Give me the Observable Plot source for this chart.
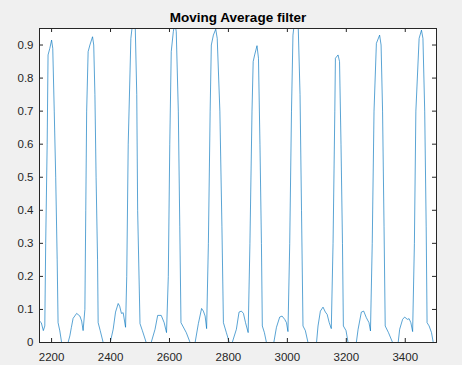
<!DOCTYPE html>
<html><head><meta charset="utf-8">
<script src="https://cdn.jsdelivr.net/npm/d3@7"></script>
<script src="https://cdn.jsdelivr.net/npm/@observablehq/plot@0.6"></script>
<style>html,body{margin:0;padding:0;background:#f0f0f0;overflow:hidden;}</style>
</head><body><div id="chart"></div>
<script>
const titleText = "Moving Average filter";
const sampleIndex = [
  2159,2165,2172,2177,2180,2185,2188,2194,2200,2204,2209,2214,2219,2222,2228,2234,
  2256,2262,2267,2273,2285,2296,2302,2307,2313,2316,2319,2324,
  2330,2339,2343,2347,2351,2356,2358,2365,2375,
  2399,2409,2417,2426,2431,2437,2443,2451,2455,2460,2469,2474,2479,2484,2489,2492,2500,2508,2521,
  2538,2551,2560,2572,2582,2590,2596,2601,2606,2613,2618,2623,2630,2635,2639,2657,2670,
  2687,2698,2709,2715,2721,2726,2732,2738,2742,2749,2757,2762,2771,2778,2783,2793,2803,
  2813,2827,2836,2844,2851,2858,2867,2873,2880,2884,2889,2897,2902,2907,2912,2915,2922,2929,
  2954,2963,2974,2982,2991,2997,3002,3008,3014,3019,3024,3031,3037,3043,3048,3053,3061,3070,
  3099,3104,3112,3121,3129,3135,3142,3149,3155,3161,3163,3172,3177,3182,3187,3190,3199,3206,
  3234,3240,3251,3259,3268,3277,3282,3288,3294,3302,3313,3318,3323,3328,3332,3343,3357,
  3376,3381,3391,3398,3407,3413,3419,3425,3431,3436,3447,3455,3460,3466,3471,3474,3481,3489,3495,3506
];
const amplitude = [
  0.065,0.06,0.036,0.05,0.3,0.6,0.87,0.89,0.915,0.89,0.7,0.5,0.25,0.06,0.035,0,
  0,0.02,0.045,0.073,0.088,0.08,0.065,0.036,0.1,0.4,0.7,0.88,
  0.9,0.925,0.9,0.75,0.5,0.25,0.06,0.036,0,
  0,0.04,0.092,0.118,0.11,0.088,0.09,0.046,0.2,0.6,0.92,0.96,0.98,0.95,0.75,0.4,0.057,0.036,0,
  0,0.04,0.082,0.082,0.06,0.03,0.2,0.6,0.88,0.94,0.97,0.94,0.7,0.35,0.06,0.03,0,
  0,0.057,0.103,0.095,0.08,0.042,0.3,0.7,0.9,0.93,0.948,0.92,0.7,0.35,0.06,0.03,0,
  0,0.04,0.092,0.095,0.088,0.06,0.03,0.3,0.7,0.85,0.87,0.898,0.86,0.6,0.3,0.05,0.03,0,
  0,0.046,0.077,0.08,0.07,0.06,0.033,0.3,0.7,0.93,0.97,0.98,0.95,0.75,0.4,0.05,0.036,0,
  0,0.05,0.095,0.107,0.092,0.085,0.06,0.042,0.3,0.7,0.86,0.87,0.85,0.6,0.3,0.05,0.036,0,
  0,0.04,0.092,0.095,0.075,0.06,0.035,0.3,0.7,0.905,0.93,0.9,0.7,0.35,0.05,0.03,0,
  0,0.04,0.07,0.077,0.07,0.072,0.06,0.033,0.3,0.7,0.92,0.945,0.92,0.7,0.35,0.06,0.05,0.03,0,0
];
const xTicks = [2200, 2400, 2600, 2800, 3000, 3200, 3400];
const yTicks = [0, 0.1, 0.2, 0.3, 0.4, 0.5, 0.6, 0.7, 0.8, 0.9];
const xDomain = [2159, 3506];
const yDomain = [0, 0.95];

const data = sampleIndex.map((x, i) => ({x, y: amplitude[i]}));
const W = 462, H = 365, mL = 39, mR = 26, mT = 28, mB = 23;
const frameH = H - mT - mB, frameW = W - mL - mR, tickLen = 4;
const ink = "#262626";

const chart = Plot.plot({
  width: W, height: H,
  marginLeft: mL, marginRight: mR, marginTop: mT, marginBottom: mB,
  style: {background: "#f0f0f0", fontFamily: "'Liberation Sans', Arial, sans-serif", fontSize: "11.5px", color: ink},
  x: {domain: xDomain},
  y: {domain: yDomain},
  marks: [
    Plot.frame({fill: "white", stroke: null}),
    Plot.line(data, {x: "x", y: "y", stroke: "#0072BD", strokeWidth: 0.65, clip: true}),
    Plot.tickX(xTicks, {x: d => d, stroke: ink, insetTop: frameH - tickLen}),
    Plot.tickX(xTicks, {x: d => d, stroke: ink, insetBottom: frameH - tickLen}),
    Plot.tickY(yTicks, {y: d => d, stroke: ink, insetRight: frameW - tickLen}),
    Plot.tickY(yTicks, {y: d => d, stroke: ink, insetLeft: frameW - tickLen}),
    Plot.axisX(xTicks, {tickSize: 0, tickPadding: 10, tickFormat: d => String(d), label: null, fill: ink}),
    Plot.axisY(yTicks, {tickSize: 0, tickPadding: 6, tickFormat: d => String(d), label: null, fill: ink}),
    Plot.frame({stroke: ink, strokeWidth: 1}),
    Plot.text([titleText], {frameAnchor: "top", lineAnchor: "bottom", dy: -6.5, fontWeight: "bold", fontSize: 13.5, fill: "#000"})
  ]
});
document.getElementById("chart").append(chart);
</script>
</body></html>
